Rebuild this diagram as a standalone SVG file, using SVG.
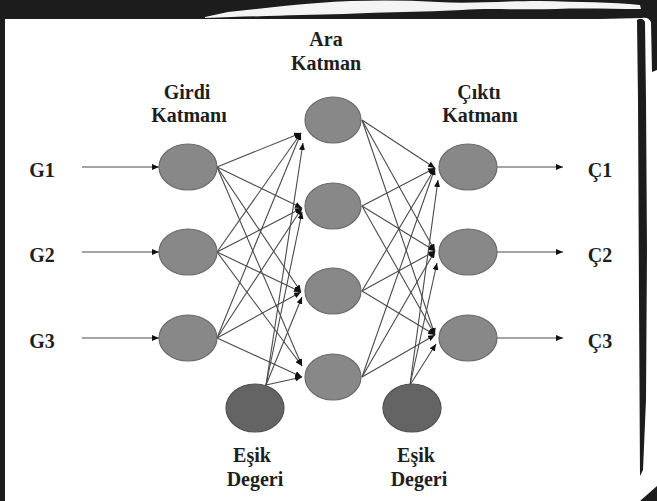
<svg xmlns="http://www.w3.org/2000/svg" width="657" height="501" viewBox="0 0 657 501">
  <style>
    .lbl { font-family: "Liberation Serif", "Times New Roman", serif; font-weight: bold; font-size: 20px; fill: #1e1e1e; text-anchor: middle; }
    .node { fill: #888888; stroke: #6a6a6a; stroke-width: 1.2; }
    .bias { fill: #646464; stroke: #505050; stroke-width: 1.2; }
    .edge { stroke: #4a4a4a; stroke-width: 1.1; fill: none; marker-end: url(#head); }
    .frame { fill: #1c1c1c; }
  </style>
  <defs>
    <marker id="head" markerUnits="userSpaceOnUse" markerWidth="7" markerHeight="6" refX="7" refY="3" orient="auto">
      <path d="M0,0 L7,3 L0,6 Z" fill="#111"/>
    </marker>
  </defs>

  <!-- paper and brush-stroke frame -->
  <rect width="657" height="501" fill="#ffffff"/>
  <g id="frame">
    <path class="frame" d="M0,0 H657 V70 L652,72 L651,22 C649,18 646,17 642,18 L600,19 H5 L5,501 H0 Z"/>
    <path class="frame" d="M637,20 C640,18 643,18 645,22 L646,100 L647,250 L646,400 L643,470 L640,476 L639,300 L638,100 Z"/>
    <path class="frame" d="M657,486 V501 H640 Z"/>
    <!-- light brush streak across the top band -->
    <path d="M205,17 L228,12 C258,9 288,5 318,3 C358,0 398,0 438,2 C470,4 500,1 540,1 C580,2 612,2 640,5 L641,9 C612,9 582,8 556,9 C520,10 486,8 462,10 C424,12 384,12 344,14 C304,15 262,16 205,18 Z" fill="#f4f4f4"/>
  </g>

  <!-- connectors -->
  <g id="connectors">
    <!-- external inputs -->
    <line class="edge" x1="82" y1="167" x2="159" y2="167"/>
    <line class="edge" x1="82" y1="252" x2="159" y2="252"/>
    <line class="edge" x1="82" y1="338" x2="159" y2="338"/>
    <!-- input layer to hidden layer -->
    <line class="edge" x1="217" y1="167" x2="301" y2="133"/>
    <line class="edge" x1="217" y1="167" x2="302" y2="208"/>
    <line class="edge" x1="217" y1="167" x2="301" y2="292"/>
    <line class="edge" x1="217" y1="167" x2="302" y2="366"/>
    <line class="edge" x1="217" y1="252" x2="301" y2="133"/>
    <line class="edge" x1="217" y1="252" x2="302" y2="208"/>
    <line class="edge" x1="217" y1="252" x2="301" y2="292"/>
    <line class="edge" x1="217" y1="252" x2="302" y2="366"/>
    <line class="edge" x1="217" y1="338" x2="301" y2="133"/>
    <line class="edge" x1="217" y1="338" x2="302" y2="208"/>
    <line class="edge" x1="217" y1="338" x2="301" y2="292"/>
    <line class="edge" x1="217" y1="338" x2="302" y2="377"/>
    <!-- first threshold to hidden layer -->
    <line class="edge" x1="266" y1="385" x2="303" y2="143"/>
    <line class="edge" x1="266" y1="385" x2="302" y2="212"/>
    <line class="edge" x1="266" y1="385" x2="302" y2="297"/>
    <line class="edge" x1="266" y1="385" x2="302" y2="377"/>
    <!-- hidden layer to output layer -->
    <line class="edge" x1="362" y1="120" x2="435" y2="168"/>
    <line class="edge" x1="362" y1="120" x2="435" y2="251"/>
    <line class="edge" x1="362" y1="120" x2="435" y2="335"/>
    <line class="edge" x1="362" y1="206" x2="435" y2="168"/>
    <line class="edge" x1="362" y1="206" x2="435" y2="251"/>
    <line class="edge" x1="362" y1="206" x2="435" y2="335"/>
    <line class="edge" x1="362" y1="291" x2="435" y2="168"/>
    <line class="edge" x1="362" y1="291" x2="435" y2="251"/>
    <line class="edge" x1="362" y1="291" x2="435" y2="335"/>
    <line class="edge" x1="362" y1="377" x2="435" y2="168"/>
    <line class="edge" x1="362" y1="377" x2="435" y2="251"/>
    <line class="edge" x1="362" y1="377" x2="435" y2="335"/>
    <!-- second threshold to output layer -->
    <line class="edge" x1="410" y1="385" x2="438" y2="180"/>
    <line class="edge" x1="410" y1="385" x2="437" y2="263"/>
    <line class="edge" x1="410" y1="385" x2="436" y2="344"/>
    <!-- external outputs -->
    <line class="edge" x1="497" y1="167" x2="563" y2="167"/>
    <line class="edge" x1="497" y1="252" x2="563" y2="252"/>
    <line class="edge" x1="497" y1="338" x2="563" y2="338"/>
  </g>

  <!-- input layer -->
  <g id="in1"><ellipse class="node" cx="188" cy="167" rx="29" ry="23"/></g>
  <g id="in2"><ellipse class="node" cx="188" cy="252" rx="29" ry="23"/></g>
  <g id="in3"><ellipse class="node" cx="188" cy="338" rx="29" ry="23"/></g>
  <!-- hidden layer -->
  <g id="h1"><ellipse class="node" cx="333" cy="120" rx="28" ry="23"/></g>
  <g id="h2"><ellipse class="node" cx="333" cy="206" rx="28" ry="23"/></g>
  <g id="h3"><ellipse class="node" cx="333" cy="291" rx="28" ry="23"/></g>
  <g id="h4"><ellipse class="node" cx="333" cy="377" rx="28" ry="23"/></g>
  <!-- output layer -->
  <g id="out1"><ellipse class="node" cx="468" cy="167" rx="29" ry="23"/></g>
  <g id="out2"><ellipse class="node" cx="468" cy="252" rx="29" ry="23"/></g>
  <g id="out3"><ellipse class="node" cx="468" cy="338" rx="29" ry="23"/></g>
  <!-- threshold nodes -->
  <g id="bias1"><ellipse class="bias" cx="255" cy="408" rx="29" ry="24"/></g>
  <g id="bias2"><ellipse class="bias" cx="412" cy="408" rx="29" ry="24"/></g>

  <!-- labels -->
  <g id="labels">
    <text class="lbl" x="326" y="46">Ara</text>
    <text class="lbl" x="326" y="70">Katman</text>
    <text class="lbl" x="187" y="99">Girdi</text>
    <text class="lbl" x="189" y="122">Katmanı</text>
    <text class="lbl" x="479" y="99">Çıktı</text>
    <text class="lbl" x="480" y="122">Katmanı</text>
    <text class="lbl" x="42" y="177">G1</text>
    <text class="lbl" x="42" y="262">G2</text>
    <text class="lbl" x="42" y="348">G3</text>
    <text class="lbl" x="600" y="177">Ç1</text>
    <text class="lbl" x="600" y="262">Ç2</text>
    <text class="lbl" x="600" y="348">Ç3</text>
    <text class="lbl" x="252" y="462">Eşik</text>
    <text class="lbl" x="255" y="486">Degeri</text>
    <text class="lbl" x="416" y="462">Eşik</text>
    <text class="lbl" x="419" y="486">Degeri</text>
  </g>
</svg>
